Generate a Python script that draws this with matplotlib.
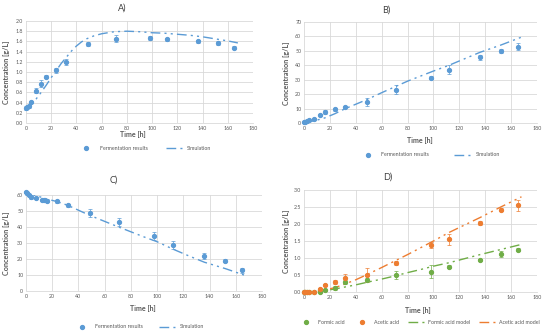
import numpy as np
import matplotlib.pyplot as plt
from matplotlib.lines import Line2D

####################################
#               Data               #
####################################

t_exp = [0, 1, 2, 4, 8, 12, 16, 24, 32, 49, 71, 98, 112, 136, 152, 165]

# A) biomass
a_val = [0.29, 0.31, 0.33, 0.42, 0.63, 0.77, 0.91, 1.03, 1.20, 1.54, 1.65, 1.67, 1.64, 1.60, 1.56, 1.48]
a_err = [0.04, 0.03, 0.03, 0.02, 0.05, 0.07, 0.03, 0.04, 0.06, 0.04, 0.07, 0.04, 0.03, 0.03, 0.04, 0.03]
a_sim_t = [0, 4, 8, 12, 16, 20, 24, 28, 32, 36, 40, 44, 48, 54, 60, 70, 80, 90, 100, 110, 120, 130, 140, 150, 160, 168]
a_sim = [0.28, 0.36, 0.47, 0.60, 0.74, 0.89, 1.03, 1.17, 1.29, 1.41, 1.51, 1.59, 1.65, 1.71, 1.75, 1.79, 1.80,
         1.79, 1.77, 1.76, 1.74, 1.72, 1.69, 1.65, 1.61, 1.57]

# B) product
b_val = [0.5, 0.8, 1.2, 1.8, 3.0, 5.5, 7.5, 9.5, 11.0, 14.5, 23.0, 31.5, 37.0, 45.5, 50.0, 53.0]
b_err = [0.3, 0.3, 0.4, 0.5, 0.8, 0.8, 1.5, 1.0, 0.8, 2.5, 3.0, 1.0, 3.0, 1.5, 1.5, 2.5]
b_sim_t = [0, 8, 16, 24, 32, 40, 48, 60, 70, 80, 90, 100, 112, 124, 136, 152, 168]
b_sim = [0.3, 1.5, 3.5, 6.5, 10.0, 13.0, 16.0, 21.0, 25.0, 29.0, 32.5, 36.0, 40.0, 44.5, 49.0, 54.0, 59.5]

# C) substrate
c_t = [0, 1, 2, 4, 8, 12, 14, 16, 24, 32, 49, 71, 98, 112, 136, 152, 165]
c_val = [62.0, 61.0, 60.0, 58.5, 58.0, 57.0, 57.0, 56.5, 56.0, 53.5, 49.0, 43.0, 34.5, 29.0, 22.0, 19.0, 13.0]
c_err = [0.8, 0.8, 0.8, 0.8, 0.8, 0.8, 0.8, 0.8, 0.8, 0.8, 2.5, 2.5, 2.5, 2.5, 2.0, 1.0, 1.5]
c_sim_t = [0, 8, 16, 24, 32, 40, 48, 60, 70, 80, 90, 100, 112, 124, 136, 152, 168]
c_sim = [61.5, 59.5, 57.5, 55.8, 53.5, 50.5, 47.5, 43.5, 40.2, 37.0, 33.8, 30.8, 26.2, 22.0, 18.0, 14.0, 9.5]

# D) acids
d_t = [0, 1, 2, 4, 8, 12, 16, 24, 32, 49, 71, 98, 112, 136, 152, 165]
formic = [0, 0, 0, 0, 0, 0.0, 0.06, 0.12, 0.30, 0.35, 0.50, 0.60, 0.75, 0.94, 1.12, 1.25]
formic_err = [0.01, 0.01, 0.01, 0.01, 0.01, 0.03, 0.03, 0.05, 0.06, 0.06, 0.12, 0.18, 0.05, 0.03, 0.08, 0.04]
acetic = [0, 0, 0, 0, 0, 0.10, 0.20, 0.30, 0.40, 0.50, 0.85, 1.38, 1.55, 2.02, 2.42, 2.55]
acetic_err = [0.01, 0.01, 0.01, 0.01, 0.01, 0.03, 0.03, 0.05, 0.13, 0.20, 0.06, 0.10, 0.17, 0.06, 0.04, 0.17]
d_sim_t = [0, 8, 16, 24, 32, 40, 48, 60, 70, 80, 90, 100, 112, 124, 136, 152, 168]
formic_sim = [0, 0.0, 0.04, 0.09, 0.15, 0.21, 0.28, 0.38, 0.47, 0.57, 0.66, 0.76, 0.86, 0.98, 1.10, 1.25, 1.40]
acetic_sim = [0, 0.01, 0.06, 0.13, 0.24, 0.36, 0.50, 0.72, 0.91, 1.10, 1.30, 1.50, 1.75, 1.97, 2.19, 2.50, 2.80]

####################################
#              Style               #
####################################

BLUE = '#5B9BD5'
ORANGE = '#ED7D31'
GREEN = '#70AD47'
GRID = '#D9D9D9'
TXT = '#595959'
DASH = (7, 3, 1.5, 3, 1.5, 3)

plt.rcParams['font.family'] = ['Lato', 'DejaVu Sans']

fig = plt.figure(figsize=(5.5, 3.32), dpi=100)


def px(x, y, w, h):
    # pixel box -> figure fraction
    return [x / 550, 1 - (y + h) / 332, w / 550, h / 332]


def setup(ax, ymax, ystep, fmt):
    ax.set_xlim(0, 180)
    ax.set_ylim(0, ymax)
    ax.set_xticks(np.arange(0, 181, 20))
    yt = np.arange(0, ymax + ystep / 2, ystep)
    ax.set_yticks(yt)
    ax.set_yticklabels([fmt.format(v) for v in yt])
    ax.grid(True, color=GRID, lw=0.6)
    ax.set_axisbelow(True)
    for s in ['top', 'right', 'left']:
        ax.spines[s].set_visible(False)
    ax.spines['bottom'].set_color(GRID)
    ax.spines['bottom'].set_linewidth(0.6)
    ax.tick_params(length=0, labelsize=3.8, colors=TXT, pad=2)


def points(ax, t, v, e, color):
    ax.errorbar(t, v, yerr=e, fmt='o', ms=2.8, color=color, ecolor=color,
                elinewidth=0.5, capsize=1.2, capthick=0.5, clip_on=False, zorder=3)


def model(ax, t, v, color):
    ax.plot(t, v, color=color, lw=1.0, dashes=DASH, zorder=2)


def ylabel(x, y):
    fig.text(x / 550, 1 - y / 332, 'Concentration [g/L]', rotation=90, ha='center', va='center',
             fontsize=5.2, fontweight='bold', color=TXT)


def xlabel(x, y):
    fig.text(x / 550, 1 - y / 332, 'Time [h]', ha='center', va='center',
             fontsize=5.0, fontweight='bold', color=TXT)


def title(x, y, s):
    fig.text(x / 550, 1 - y / 332, s, ha='center', va='center', fontsize=6.5, color='#404040')


pt_handle = lambda c, l: Line2D([], [], ls='none', marker='o', ms=2.8, color=c, label=l)
ln_handle = lambda c, l: Line2D([], [], color=c, lw=1.0, dashes=DASH, label=l)


def legend(handles, x, y, spacing=3.5):
    fig.legend(handles=handles, loc='center', bbox_to_anchor=(x / 550, 1 - y / 332), ncol=len(handles),
               frameon=False, fontsize=3.8, labelcolor=TXT, handlelength=3.0, columnspacing=spacing,
               handletextpad=1.0)


# A)
ax = fig.add_axes(px(26, 21, 227, 102))
setup(ax, 2.0, 0.2, '{:.1f}')
model(ax, a_sim_t, a_sim, BLUE)
points(ax, t_exp, a_val, a_err, BLUE)
title(122, 8, 'A)')
ylabel(6, 72)
xlabel(133, 135)
legend([pt_handle(BLUE, 'Fermentation results'), ln_handle(BLUE, 'Simulation')], 145, 148)

# B)
ax = fig.add_axes(px(304, 22, 233, 101))
setup(ax, 70, 10, '{:.0f}')
model(ax, b_sim_t, b_sim, BLUE)
points(ax, t_exp, b_val, b_err, BLUE)
title(386, 10, 'B)')
ylabel(287, 73)
xlabel(420, 141)
legend([pt_handle(BLUE, 'Fermentation results'), ln_handle(BLUE, 'Simulation')], 430, 155, 4.8)

# C)
ax = fig.add_axes(px(26, 195, 236, 96))
setup(ax, 60, 10, '{:.0f}')
model(ax, c_sim_t, c_sim, BLUE)
points(ax, c_t, c_val, c_err, BLUE)
title(114, 180, 'C)')
ylabel(7, 243)
xlabel(143, 309)
legend([pt_handle(BLUE, 'Fermentation results'), ln_handle(BLUE, 'Simulation')], 139, 327, 3.0)

# D)
ax = fig.add_axes(px(304, 190, 233, 102))
setup(ax, 3.0, 0.5, '{:.1f}')
model(ax, d_sim_t, formic_sim, GREEN)
model(ax, d_sim_t, acetic_sim, ORANGE)
points(ax, d_t, formic, formic_err, GREEN)
points(ax, d_t, acetic, acetic_err, ORANGE)
title(388, 177, 'D)')
ylabel(287, 241)
xlabel(418, 310)
fig.legend(handles=[pt_handle(GREEN, 'Formic acid'), pt_handle(ORANGE, 'Acetic acid'),
                    ln_handle(GREEN, 'Formic acid model'), ln_handle(ORANGE, 'Acetic acid model')],
           loc='center', bbox_to_anchor=(419 / 550, 1 - 322 / 332), ncol=4, frameon=False,
           fontsize=3.8, labelcolor=TXT, handlelength=3.0, columnspacing=1.7, handletextpad=0.8)

plt.savefig('out.png', dpi=100)
